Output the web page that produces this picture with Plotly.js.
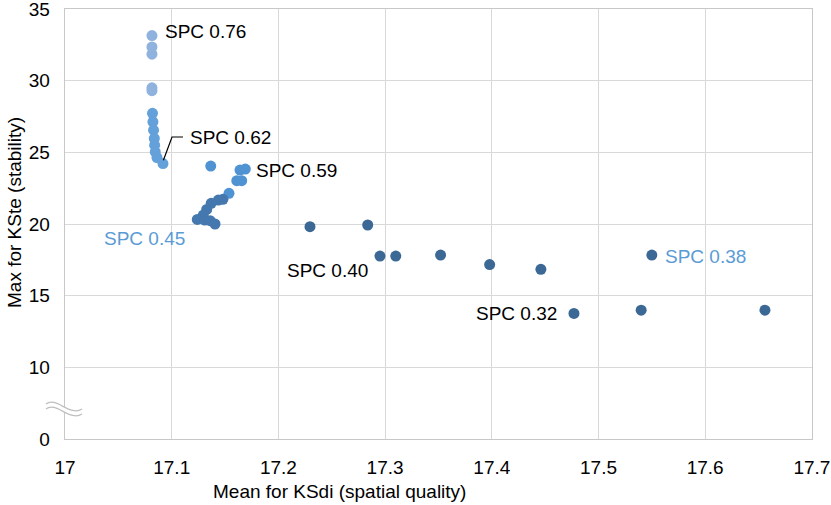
<!DOCTYPE html>
<html>
<head>
<meta charset="utf-8">
<script src="https://cdn.plot.ly/plotly-3.0.1.min.js"></script>
<style>
  html, body { margin: 0; padding: 0; background: #fff; }
  #chart { width: 831px; height: 505px; }
</style>
</head>
<body>
<div id="chart"></div>
<script>
// KSdi mean (x) vs KSte max (y), grouped by shade
const colTopX = [17.0815, 17.0815, 17.0815, 17.0815, 17.0815]
const colTopY = [33.15, 32.35, 31.85, 29.5, 29.3]

const colLowX = [17.0820, 17.0824, 17.0830, 17.0837, 17.0840, 17.0846, 17.0862, 17.0918]
const colLowY = [27.72, 27.13, 26.55, 25.97, 25.5, 25.03, 24.64, 24.22]

const clusterUpX = [17.1366, 17.164, 17.169, 17.161, 17.1656, 17.1537]
const clusterUpY = [24.04, 23.76, 23.83, 23.02, 23.02, 22.14]

const clusterLowX = [17.148, 17.1437, 17.137, 17.1328, 17.1296, 17.124, 17.131, 17.136, 17.1406]
const clusterLowY = [21.72, 21.67, 21.44, 21.02, 20.62, 20.32, 20.28, 20.23, 20.0]

const farX = [17.2296, 17.2837, 17.2952, 17.310, 17.352, 17.398, 17.446, 17.477, 17.540, 17.550, 17.656]
const farY = [19.81, 19.93, 17.76, 17.76, 17.83, 17.17, 16.84, 13.76, 13.99, 17.83, 13.99]

// y axis is broken between 0 and 10: the "0" tick sits at 5
const yTickVals = [5, 10, 15, 20, 25, 30, 35]
const yTickText = ['0', '10', '15', '20', '25', '30', '35']
const xTickVals = [17, 17.1, 17.2, 17.3, 17.4, 17.5, 17.6, 17.7]
const xTickText = ['17', '17.1', '17.2', '17.3', '17.4', '17.5', '17.6', '17.7']

const labels = [
    { text: 'SPC 0.76', x: 17.0915, y: 33.4, color: '#000' },
    { text: 'SPC 0.62', x: 17.1150, y: 26.07, color: '#000' },
    { text: 'SPC 0.59', x: 17.1768, y: 23.76, color: '#000' },
    { text: 'SPC 0.45', x: 17.0345, y: 19.02, color: '#5b9bd5' },
    { text: 'SPC 0.40', x: 17.2060, y: 16.79, color: '#000' },
    { text: 'SPC 0.32', x: 17.3832, y: 13.79, color: '#000' },
    { text: 'SPC 0.38', x: 17.5603, y: 17.76, color: '#5b9bd5' },
]

const font = 'Liberation Sans, Arial, Helvetica, sans-serif'
const fs = 19

function pts(x, y, color) {
    return {
        x: x,
        y: y,
        type: 'scatter',
        mode: 'markers',
        marker: { size: 11, color: color },
        hoverinfo: 'x+y',
        showlegend: false,
        cliponaxis: false,
    }
}

const traces = [
    pts(colTopX, colTopY, '#8fb2de'),
    pts(colLowX, colLowY, '#64a0da'),
    pts(clusterUpX, clusterUpY, '#5093d3'),
    pts(clusterLowX, clusterLowY, '#4478ae'),
    pts(farX, farY, '#3b6894'),
]

// break mark on the y axis, paper coords
function px(v) { return (v - 65) / 747 }
function py(v) { return (439 - v) / 430 }
function wave(dy) {
    return `M${px(46)},${py(404 + dy)} C${px(56)},${py(396 + dy)} ${px(70)},${py(417 + dy)} ${px(82)},${py(409 + dy)}`
}

const shapes = [
    {
        type: 'path', xref: 'paper', yref: 'paper', layer: 'above',
        path: wave(0) + ` L${px(82)},${py(414)} C${px(70)},${py(422)} ${px(56)},${py(401)} ${px(46)},${py(409)} Z`,
        fillcolor: '#fff', line: { width: 0 },
    },
    {
        type: 'path', xref: 'paper', yref: 'paper', layer: 'above',
        path: wave(0), line: { color: '#bfbfbf', width: 1.3 },
    },
    {
        type: 'path', xref: 'paper', yref: 'paper', layer: 'above',
        path: wave(5), line: { color: '#bfbfbf', width: 1.3 },
    },
    // leader line for SPC 0.62
    {
        type: 'path', xref: 'x', yref: 'y',
        path: 'M17.0922,24.45 L17.1003,26.07 L17.1106,26.07',
        line: { color: '#000', width: 1.2 },
    },
]

const annotations = labels.map(l => ({
    text: l.text, x: l.x, y: l.y, xref: 'x', yref: 'y',
    xanchor: 'left', yanchor: 'middle', showarrow: false,
    font: { family: font, size: fs, color: l.color },
}))

annotations.push({
    text: 'Mean for KSdi (spatial quality)', xref: 'paper', yref: 'paper',
    x: px(339), y: py(492), xanchor: 'center', yanchor: 'middle', showarrow: false,
    font: { family: font, size: fs, color: '#000' },
})
annotations.push({
    text: 'Max for KSte (stability)', xref: 'paper', yref: 'paper',
    x: px(14), y: py(213), xanchor: 'center', yanchor: 'middle', showarrow: false,
    textangle: -90,
    font: { family: font, size: fs, color: '#000' },
})

const layout = {
    width: 831,
    height: 505,
    margin: { l: 65, r: 19, t: 9, b: 66 },
    paper_bgcolor: '#fff',
    plot_bgcolor: '#fff',
    font: { family: font, size: fs, color: '#000' },
    xaxis: {
        range: [17, 17.7001],
        tickvals: xTickVals,
        ticktext: xTickText,
        showgrid: true,
        gridcolor: '#d9d9d9',
        gridwidth: 1,
        zeroline: false,
        showline: true,
        linecolor: '#c8c8c8',
        linewidth: 1.3,
        mirror: true,
        ticks: '',
        ticklabelstandoff: 11,
        ticklabeloverflow: 'allow',
        tickfont: { family: font, size: fs, color: '#000' },
    },
    yaxis: {
        range: [5, 35.001],
        tickvals: yTickVals,
        ticktext: yTickText,
        showgrid: true,
        gridcolor: '#d9d9d9',
        gridwidth: 1,
        zeroline: false,
        showline: true,
        linecolor: '#c8c8c8',
        linewidth: 1.3,
        mirror: true,
        ticks: '',
        ticklabelstandoff: 10,
        ticklabeloverflow: 'allow',
        tickfont: { family: font, size: fs, color: '#000' },
    },
    shapes: shapes,
    annotations: annotations,
}

Plotly.newPlot('chart', traces, layout, { displayModeBar: false, staticPlot: true })
</script>
</body>
</html>
